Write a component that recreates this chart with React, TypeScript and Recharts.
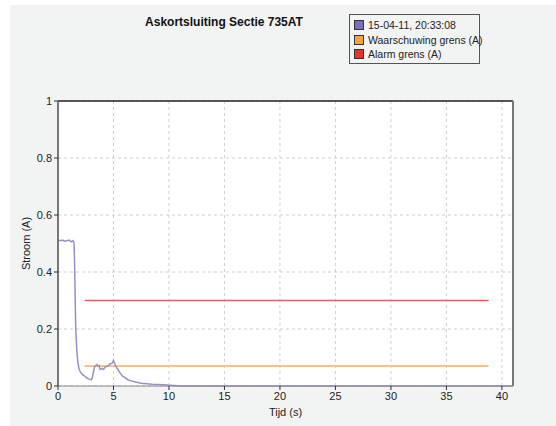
import React from "react";
import {
  ComposedChart,
  Line,
  XAxis,
  YAxis,
  CartesianGrid,
  ReferenceLine,
  Label,
} from "recharts";

const timeValues = [0, 0.2, 0.4, 0.6, 0.8, 1.0, 1.2, 1.35, 1.45, 1.5, 1.55, 1.6, 1.7, 1.8, 1.9, 2.0, 2.2, 2.4, 2.6, 2.8, 3.0, 3.1, 3.2, 3.3, 3.5, 3.6, 3.7, 3.8, 4.0, 4.1, 4.3, 4.5, 4.7, 4.9, 5.0, 5.1, 5.2, 5.4, 5.6, 5.8, 6.0, 6.3, 6.6, 7.0, 7.5, 8.0, 8.5, 9.0, 9.5, 10.0, 10.5, 11, 41];
const currentValues = [0.512, 0.51, 0.512, 0.508, 0.51, 0.512, 0.506, 0.51, 0.5, 0.42, 0.3, 0.2, 0.12, 0.08, 0.06, 0.05, 0.04, 0.035, 0.028, 0.024, 0.022, 0.03, 0.05, 0.068, 0.075, 0.07, 0.072, 0.058, 0.062, 0.058, 0.068, 0.07, 0.078, 0.08, 0.09, 0.08, 0.07, 0.058, 0.045, 0.035, 0.03, 0.022, 0.018, 0.014, 0.01, 0.008, 0.006, 0.005, 0.004, 0.003, 0.002, 0, 0];

const limitTimes = [2.4, 38.8];
const warningLimit = 0.07;
const alarmLimit = 0.3;

const xTicks = [0, 5, 10, 15, 20, 25, 30, 35, 40];
const yTicks = [0, 0.2, 0.4, 0.6, 0.8, 1];

const seriesNames = ["15-04-11, 20:33:08", "Waarschuwing grens (A)", "Alarm grens (A)"];
const seriesColors = ["#7d6db5", "#f2a93b", "#e8342f"];

const mainData = timeValues.map((t, i) => ({ t, v: currentValues[i] }));
const warnData = limitTimes.map((t) => ({ t, v: warningLimit }));
const alarmData = limitTimes.map((t) => ({ t, v: alarmLimit }));

const FONT = "'Liberation Sans', Arial, sans-serif";

export default function App() {
  return (
    <div
      style={{
        position: "absolute",
        left: 10,
        top: 5,
        width: 546,
        height: 421,
        background: "#f2f3f3",
        fontFamily: FONT,
      }}
    >
      <div
        style={{
          position: "absolute",
          left: 0,
          width: 428,
          top: 10,
          textAlign: "center",
          fontWeight: "bold",
          fontSize: 12,
          color: "#111",
        }}
      >
        Askortsluiting Sectie 735AT
      </div>
      <div
        style={{
          position: "absolute",
          left: 339,
          top: 9,
          width: 131,
          height: 50,
          border: "1px solid #555",
          fontSize: 10.5,
          color: "#222",
          padding: "3px 0 0 4px",
          boxSizing: "border-box",
          whiteSpace: "nowrap",
        }}
      >
        {seriesNames.map((n, i) => (
          <div key={n} style={{ display: "flex", alignItems: "center", height: 14.5 }}>
            <span
              style={{
                display: "inline-block",
                width: 8,
                height: 8,
                flexShrink: 0,
                background: seriesColors[i],
                border: "1px solid #333",
                marginRight: 4,
              }}
            />
            <span>{n}</span>
          </div>
        ))}
      </div>
      <ComposedChart
        width={546}
        height={421}
        margin={{ top: 96, right: 43, bottom: 0, left: 0 }}
        style={{ position: "absolute", left: 0, top: 0 }}
      >
        <CartesianGrid
          fill="#ffffff"
          stroke="#cfcfcf"
          strokeDasharray="3 3"
          horizontalValues={yTicks}
          verticalValues={xTicks}
        />
        <XAxis
          type="number"
          dataKey="t"
          domain={[0, 41]}
          ticks={xTicks}
          allowDataOverflow
          height={40}
          tickSize={4}
          tick={{ fontSize: 11, fill: "#222", fontFamily: FONT }}
          axisLine={{ stroke: "#888", strokeWidth: 1 }}
          tickLine={{ stroke: "#333" }}
        >
          <Label value="Tijd (s)" position="insideBottom" offset={10} style={{ fontSize: 11, fill: "#222", fontFamily: FONT }} />
        </XAxis>
        <YAxis
          type="number"
          domain={[0, 1]}
          ticks={yTicks}
          width={48}
          tickSize={4}
          tickFormatter={(v: number) => (v === 0 ? "0" : v === 1 ? "1" : v.toFixed(1))}
          tick={{ fontSize: 11, fill: "#222", fontFamily: FONT }}
          axisLine={{ stroke: "#777", strokeWidth: 2 }}
          tickLine={{ stroke: "#333" }}
        >
          <Label value="Stroom (A)" angle={-90} position="insideLeft" offset={16} style={{ fontSize: 11, fill: "#222", fontFamily: FONT, textAnchor: "middle" }} />
        </YAxis>
        <ReferenceLine y={1} stroke="#222" strokeWidth={1.5} />
        <ReferenceLine x={41} stroke="#777" strokeWidth={2} />
        <Line
          data={alarmData}
          dataKey="v"
          type="linear"
          stroke="#f05a5a"
          strokeWidth={1.5}
          dot={false}
          isAnimationActive={false}
        />
        <Line
          data={warnData}
          dataKey="v"
          type="linear"
          stroke="#f7c47e"
          strokeWidth={2}
          dot={false}
          isAnimationActive={false}
        />
        <Line
          data={mainData}
          dataKey="v"
          type="linear"
          stroke="#9a8ccb"
          strokeWidth={1.5}
          dot={false}
          isAnimationActive={false}
        />
      </ComposedChart>
    </div>
  );
}
